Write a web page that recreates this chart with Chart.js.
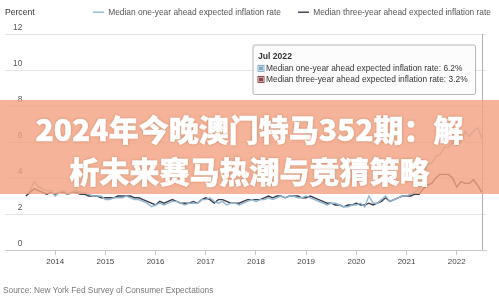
<!DOCTYPE html>
<html>
<head>
<meta charset="utf-8">
<script src="https://cdn.jsdelivr.net/npm/chart.js@4.4.0/dist/chart.umd.min.js"></script>
<style>
  html, body { margin: 0; padding: 0; background: #fff; }
  #wrap { position: relative; width: 499px; height: 296px; overflow: hidden; font-family: 'Liberation Sans', Arial, sans-serif; }
  #grafico { position: absolute; left: 0; top: 0; }
  .percent { position: absolute; left: 5px; top: 7px; font-size: 8.6px; color: #333; }
  .fonte { position: absolute; left: 3px; top: 285px; font-size: 8.3px; color: #777; }
  .faixa {
    position: absolute; left: 0; top: 100px; width: 499px; height: 94px; box-sizing: border-box;
    padding-top: 7px; background: rgba(242,161,127,0.8); color: #fff;
    font-family: 'Noto Sans CJK SC', sans-serif; font-weight: 900; font-size: 30px; line-height: 42px;
    text-align: center; -webkit-text-stroke: 0.5px #fff; text-shadow: 0 0 3px rgba(150,80,50,0.55);
  }
</style>
</head>
<body>
<div id="wrap">
  <canvas id="grafico" width="499" height="296"></canvas>
  <div class="percent">Percent</div>
  <div class="fonte">Source: New York Fed Survey of Consumer Expectations</div>
  <div class="faixa">2024年今晚澳门特马352期：解<br>析未来赛马热潮与竞猜策略</div>
</div>
<script>
// eixo x: meses de Jan 2013 a Aug 2022, dados de Jun 2013 a Jul 2022
const nomesMeses = ['Jan','Feb','Mar','Apr','May','Jun','Jul','Aug','Sep','Oct','Nov','Dec'];
const anos = [2013, 2014, 2015, 2016, 2017, 2018, 2019, 2020, 2021, 2022];
const anosRotulo = ['2014','2015','2016','2017','2018','2019','2020','2021','2022'];
const primeiroMes = 'Jun 2013';
const ultimoEixo = 'Aug 2022';

// mediana de 1 ano (Jun 2013 -> Jul 2022)
const umAno = [
  3.1, 3.3, 3.8, 3.5, 3.4, 3.3, 3.3,
  3.0, 3.2, 3.3, 3.1, 3.2, 3.3, 3.2, 3.2, 3.1, 3.0, 3.0, 3.0,
  2.8, 2.8, 2.9, 2.9, 2.9, 3.0, 2.9, 2.8, 2.8, 2.7, 2.6, 2.4,
  2.5, 2.6, 2.5, 2.6, 2.7, 2.7, 2.6, 2.5, 2.6, 2.6, 2.6, 2.8,
  2.8, 2.9, 2.7, 2.6, 2.7, 2.5, 2.6, 2.6, 2.5, 2.6, 2.7, 2.8,
  2.7, 2.8, 2.8, 2.9, 2.8, 2.9, 3.0, 2.9, 3.0, 3.0, 2.9, 2.9,
  3.0, 2.9, 2.8, 2.7, 2.6, 2.5, 2.6, 2.6, 2.5, 2.4, 2.4, 2.5,
  2.5, 2.6, 2.4, 3.0, 2.6, 2.6, 2.8, 3.0, 2.7, 2.8, 2.9, 3.0,
  3.0, 3.1, 3.2, 3.4, 4.0, 4.8, 4.8, 5.2, 5.3, 5.7, 5.7, 6.0,
  5.8, 6.0, 6.6, 6.3, 6.6, 6.8, 6.2
];

// mediana de 3 anos
const tresAnos = [
  3.0, 3.2, 3.4, 3.3, 3.2, 3.1, 3.2,
  3.1, 3.2, 3.2, 3.1, 3.2, 3.2, 3.1, 3.1, 3.0, 3.0, 3.0, 2.9,
  2.9, 2.9, 2.9, 3.0, 3.0, 3.0, 3.0, 2.9, 2.9, 2.8, 2.7, 2.6,
  2.5, 2.7, 2.6, 2.7, 2.8, 2.7, 2.6, 2.6, 2.6, 2.7, 2.6, 2.8,
  2.9, 2.8, 2.6, 2.8, 2.8, 2.7, 2.6, 2.6, 2.6, 2.7, 2.8, 2.8,
  2.8, 2.8, 2.9, 3.0, 2.9, 3.0, 3.0, 2.9, 3.0, 3.0, 3.0, 2.9,
  2.9, 3.0, 2.9, 2.8, 2.7, 2.6, 2.6, 2.5, 2.5, 2.4, 2.5, 2.5,
  2.6, 2.5, 2.5, 2.6, 2.5, 2.6, 2.7, 2.9, 2.7, 2.8, 2.9, 3.0,
  3.0, 3.0, 3.1, 3.1, 3.4, 3.6, 3.7, 4.0, 4.2, 4.2, 4.2, 4.0,
  3.5, 3.8, 3.7, 3.7, 3.9, 3.6, 3.2
];

const nomesSeries = ['Median one-year ahead expected inflation rate', 'Median three-year ahead expected inflation rate'];
const coresLinha = ['#8fb6cf', '#3b3b4c'];
const coresTooltip = ['#7fa9c4', '#8c4646'];

let meses = [];
anos.forEach(a => nomesMeses.forEach(m => meses.push(m + ' ' + a)));
meses = meses.slice(0, meses.indexOf(ultimoEixo) + 1);
const inicio = meses.indexOf(primeiroMes);
const mesesDados = meses.slice(inicio, inicio + umAno.length);

function rotuloAno(valor) {
  const rotulo = meses[valor] || '';
  const ano = rotulo.slice(4);
  return rotulo.startsWith('Jan') && anosRotulo.includes(ano) ? ano : '';
}

Chart.defaults.font.family = "'Liberation Sans', Arial, sans-serif";

Chart.Tooltip.positioners.fixo = function () {
  const area = this.chart.chartArea;
  return { x: area.left + 250, y: area.top + 11, xAlign: 'left', yAlign: 'top' };
};

// legenda na mesma linha do "Percent"
const alturaLegenda = {
  id: 'alturaLegenda',
  beforeInit(chart) {
    if (!chart.legend) return;
    const fitOriginal = chart.legend.fit;
    chart.legend.fit = function () { fitOriginal.call(this); this.height = 43; };
  }
};

// linha vertical no mes destacado
const linhaCursor = {
  id: 'linhaCursor',
  afterDatasetsDraw(chart) {
    const px = chart.scales.x.getPixelForValue(meses.indexOf(mesesDados[mesesDados.length - 1]));
    const ctx = chart.ctx;
    ctx.save();
    ctx.strokeStyle = '#b0b0b0';
    ctx.lineWidth = 1;
    ctx.beginPath();
    ctx.moveTo(Math.round(px) + 0.5, chart.chartArea.top);
    ctx.lineTo(Math.round(px) + 0.5, chart.chartArea.bottom);
    ctx.stroke();
    ctx.restore();
  }
};

const grafico = new Chart(document.getElementById('grafico'), {
  type: 'line',
  data: {
    labels: meses,
    datasets: [
      {
        label: nomesSeries[0],
        data: umAno.map((v, i) => ({ x: mesesDados[i], y: v })),
        borderColor: coresLinha[0],
        backgroundColor: coresLinha[0],
        borderWidth: 1.4,
        pointRadius: 0,
        tension: 0
      },
      {
        label: nomesSeries[1],
        data: tresAnos.map((v, i) => ({ x: mesesDados[i], y: v })),
        borderColor: coresLinha[1],
        backgroundColor: coresLinha[1],
        borderWidth: 1.4,
        pointRadius: 0,
        tension: 0
      }
    ]
  },
  options: {
    responsive: false,
    animation: false,
    events: [],
    layout: { padding: { left: 5, right: -9, top: -9, bottom: 0 } },
    plugins: {
      legend: {
        position: 'top',
        align: 'end',
        labels: {
          usePointStyle: true,
          pointStyle: 'line',
          pointStyleWidth: 11,
          padding: 17,
          color: '#555',
          font: { size: 8.4 }
        }
      },
      tooltip: {
        position: 'fixo',
        xAlign: 'left',
        yAlign: 'top',
        caretSize: 0,
        caretPadding: 0,
        cornerRadius: 2,
        backgroundColor: 'rgba(252,252,252,0.96)',
        borderColor: '#b5b5b5',
        borderWidth: 1,
        padding: { left: 5, right: 8, top: 6, bottom: 10 },
        titleColor: '#333',
        titleFont: { size: 8.6, weight: 'bold' },
        titleMarginBottom: 2,
        bodyColor: '#333',
        bodyFont: { size: 8.4 },
        bodySpacing: 1,
        boxWidth: 6,
        boxHeight: 6,
        displayColors: true,
        callbacks: {
          title: items => items[0].label,
          label: ctx => ctx.dataset.label + ': ' + ctx.parsed.y.toFixed(1) + '%',
          labelColor: ctx => ({ borderColor: coresTooltip[ctx.datasetIndex], backgroundColor: coresTooltip[ctx.datasetIndex] })
        }
      }
    },
    scales: {
      x: {
        offset: false,
        grid: {
          display: true,
          drawOnChartArea: false,
          drawTicks: true,
          tickLength: 5,
          tickColor: ctx => (ctx.tick && rotuloAno(ctx.tick.value)) ? '#c8c8c8' : 'rgba(0,0,0,0)'
        },
        border: { display: true, color: '#c8c8c8' },
        ticks: {
          autoSkip: false,
          maxRotation: 0,
          minRotation: 0,
          padding: 2,
          color: '#444',
          font: { size: 8 },
          callback: valor => rotuloAno(valor)
        },
        afterFit: s => { s.height = 46; }
      },
      y: {
        min: 0,
        max: 12,
        ticks: {
          stepSize: 2,
          mirror: true,
          crossAlign: 'far',
          padding: 8,
          labelOffset: -6.5,
          color: '#555',
          font: { size: 8.4 }
        },
        grid: { color: '#e3e3e3', drawTicks: false },
        border: { display: false },
        afterFit: s => { s.width = 0; }
      },
      yr: {
        position: 'right',
        display: true,
        grid: { display: false },
        ticks: { display: false },
        border: { display: false },
        afterFit: s => { s.width = 22; }
      }
    }
  },
  plugins: [alturaLegenda, linhaCursor]
});

const ultimo = umAno.length - 1;
grafico.tooltip.setActiveElements([
  { datasetIndex: 0, index: ultimo },
  { datasetIndex: 1, index: ultimo }
], { x: 0, y: 0 });
grafico.update();
</script>
</body>
</html>
